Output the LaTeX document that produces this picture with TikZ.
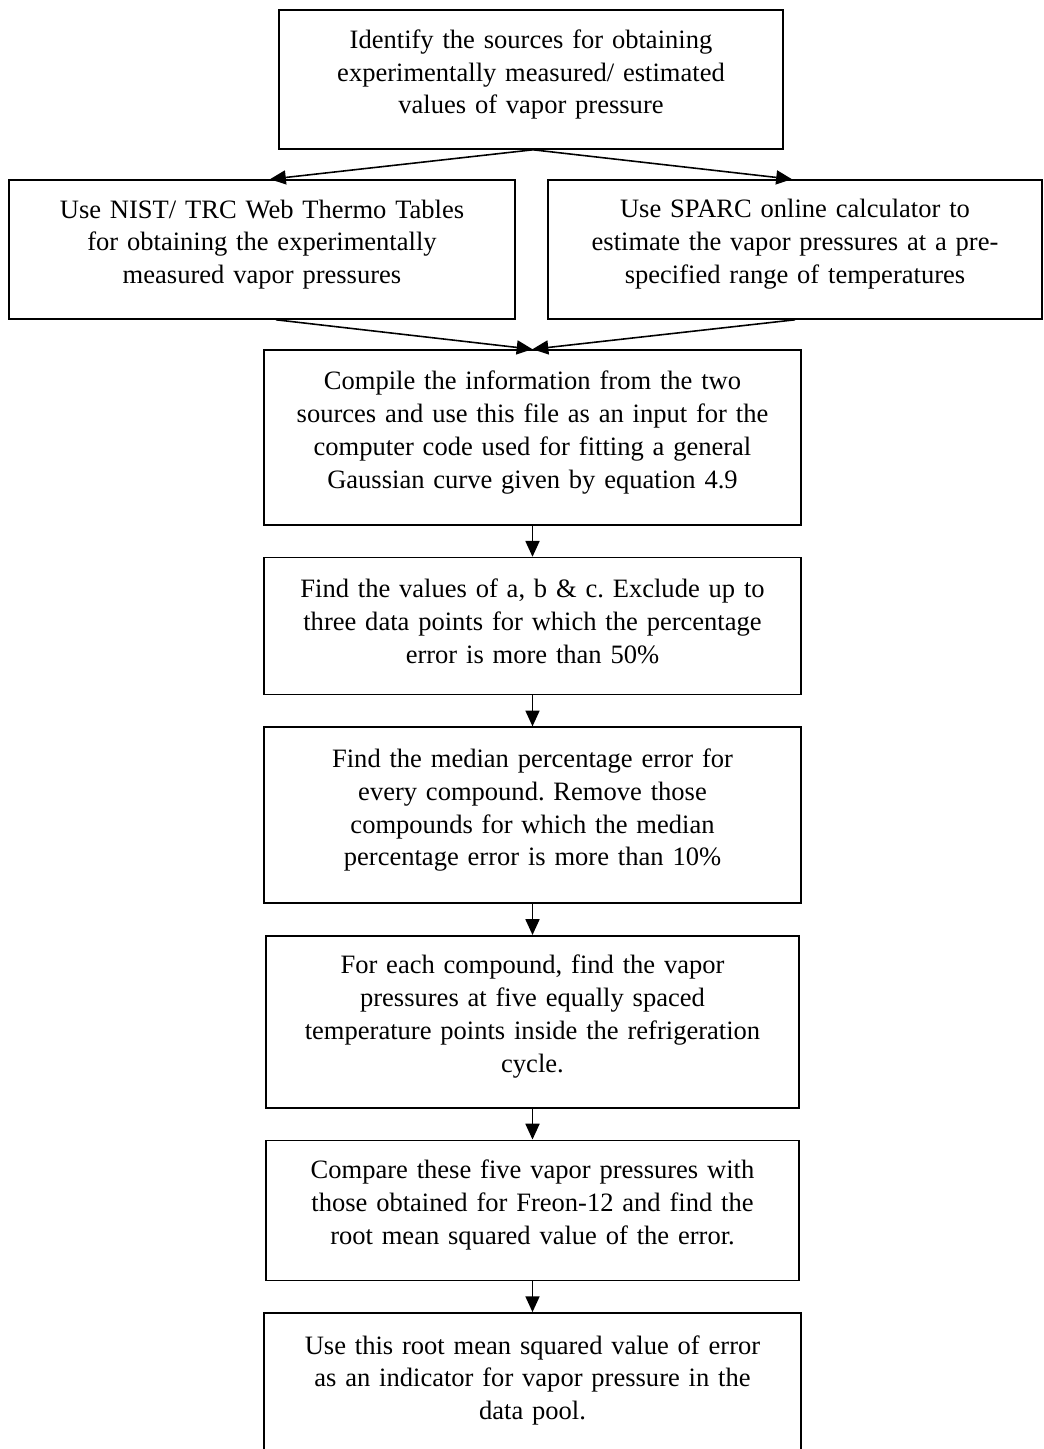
\documentclass[tikz,border=0pt]{standalone}
\usepackage{fontspec}
\setmainfont{Liberation Serif}
\frenchspacing
\usepackage{tikz}
\usetikzlibrary{positioning,arrows.meta}

\begin{document}
\begin{tikzpicture}[
    node distance=0.62cm,
    box/.style={rectangle, draw=black, line width=0.9pt, text width=10.74cm, inner xsep=0pt, inner ysep=2pt, align=center, font=\fontsize{15.1pt}{18.7pt}\selectfont, execute at end node={\endgraf\nointerlineskip\rule{0pt}{0.2cm}}},
    arrow/.style={-{Triangle[length=9pt,width=8pt]}, line width=0.9pt}
]
\useasboundingbox (0,0) rectangle (20.86,-28.98);

% Nodes
\node[box, text width=10.08cm, minimum height=2.78cm] (sources) at (10.62,-1.59) {Identify the sources for obtaining\\experimentally measured/ estimated\\values of vapor pressure};

\node[box, text width=10.12cm, minimum height=2.78cm] (nist) at (5.24,-4.99) {Use NIST/ TRC Web Thermo Tables\\for obtaining the experimentally\\measured vapor pressures};

\node[box, text width=9.88cm, minimum height=2.78cm] (sparc) at (15.9,-4.99) {Use SPARC online calculator to\\estimate the vapor pressures at a pre-\\specified range of temperatures};

\node[box, minimum height=3.5cm] (compile) at (10.65,-8.75) {Compile the information from the two\\sources and use this file as an input for the\\computer code used for fitting a general\\Gaussian curve given by equation 4.9};

\node[box, minimum height=2.74cm, below=of compile] (fit) {Find the values of a, b \& c. Exclude up to\\three data points for which the percentage\\error is more than 50\%};

\node[box, minimum height=3.52cm, below=of fit] (median) {Find the median percentage error for\\every compound. Remove those\\compounds for which the median\\percentage error is more than 10\%};

\node[box, text width=10.66cm, minimum height=3.44cm, below=of median] (cycle) {For each compound, find the vapor\\pressures at five equally spaced\\temperature points inside the refrigeration\\cycle.};

\node[box, text width=10.66cm, minimum height=2.8cm, below=of cycle] (compare) {Compare these five vapor pressures with\\those obtained for Freon-12 and find the\\root mean squared value of the error.};

\node[box, minimum height=2.9cm, below=of compare] (indicator) {Use this root mean squared value of error\\as an indicator for vapor pressure in the\\data pool.};

% Arrows
\draw[arrow] ([xshift=0.04cm]sources.south) -- ([xshift=0.16cm]nist.north);
\draw[arrow] ([xshift=0.04cm]sources.south) -- ([xshift=-0.06cm]sparc.north);
\draw[arrow] ([xshift=0.28cm]nist.south) -- (compile.north);
\draw[arrow] (sparc.south) -- (compile.north);
\draw[arrow] (compile) -- (fit);
\draw[arrow] (fit) -- (median);
\draw[arrow] (median) -- (cycle);
\draw[arrow] (cycle) -- (compare);
\draw[arrow] (compare) -- (indicator);

\end{tikzpicture}
\end{document}
